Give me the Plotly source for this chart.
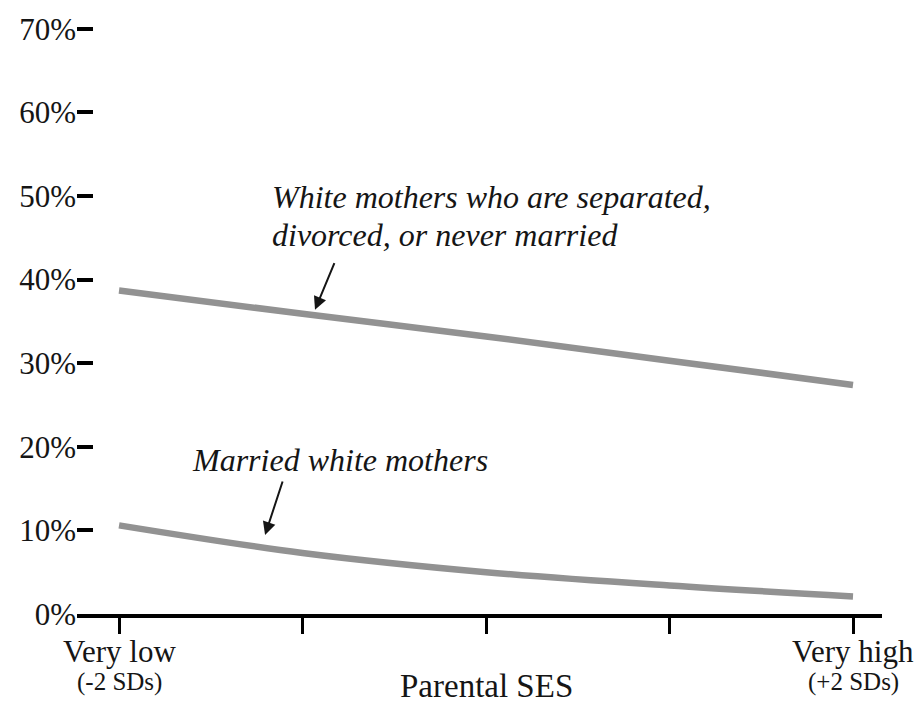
import plotly.graph_objects as go

ses_x = [-2, -1, 0, 1, 2]
unmarried_pct = [38.7, 35.9, 33.2, 30.3, 27.4]
married_pct = [10.6, 7.3, 5.0, 3.4, 2.1]
y_ticks = [0, 10, 20, 30, 40, 50, 60, 70]
y_ticktext = ["0%", "10%", "20%", "30%", "40%", "50%", "60%", "70%"]
x_end_labels = ["Very low", "Very high"]
sd_labels = ["(-2 SDs)", "(+2 SDs)"]

SERIF = "Liberation Serif, Times New Roman, serif"
INK = "#151515"
LINE_COLOR = "#929292"

fig = go.Figure()
fig.add_trace(go.Scatter(x=ses_x, y=unmarried_pct, mode="lines",
                         line=dict(color=LINE_COLOR, width=6.5, shape="spline"),
                         hoverinfo="skip", showlegend=False))
fig.add_trace(go.Scatter(x=ses_x, y=married_pct, mode="lines",
                         line=dict(color=LINE_COLOR, width=6.5, shape="spline"),
                         hoverinfo="skip", showlegend=False))

ital = dict(family=SERIF, size=32, color=INK)
annotations = [
    dict(x=-1.177, y=49.9, xref="x", yref="y", xanchor="left", yanchor="middle",
         text="<i>White mothers who are separated,</i>", showarrow=False, font=ital),
    dict(x=-1.177, y=45.3, xref="x", yref="y", xanchor="left", yanchor="middle",
         text="<i>divorced, or never married</i>", showarrow=False, font=ital),
    dict(x=-0.932, y=36.4, xref="x", yref="y", ax=20, ay=-48, text="",
         showarrow=True, arrowhead=2, arrowsize=1.3, arrowwidth=2, arrowcolor=INK),
    dict(x=-1.613, y=18.4, xref="x", yref="y", xanchor="left", yanchor="middle",
         text="<i>Married white mothers</i>", showarrow=False, font=ital),
    dict(x=-1.204, y=9.45, xref="x", yref="y", ax=18, ay=-55, text="",
         showarrow=True, arrowhead=2, arrowsize=1.3, arrowwidth=2, arrowcolor=INK),
    dict(x=0, y=-0.1196, xref="x", yref="paper", text="Parental SES", showarrow=False,
         xanchor="center", yanchor="middle", font=dict(family=SERIF, size=33, color=INK)),
]
for xv, main_lbl, sd_lbl in zip([ses_x[0], ses_x[-1]], x_end_labels, sd_labels):
    annotations.append(dict(x=xv, y=-0.0631, xref="x", yref="paper", text=main_lbl,
                            showarrow=False, xanchor="center", yanchor="middle",
                            font=dict(family=SERIF, size=31, color=INK)))
    annotations.append(dict(x=xv, y=-0.1130, xref="x", yref="paper", text=sd_lbl,
                            showarrow=False, xanchor="center", yanchor="middle",
                            font=dict(family=SERIF, size=25, color=INK)))

fig.update_layout(
    width=920, height=709,
    margin=dict(l=77, r=38, t=12, b=95, autoexpand=False),
    paper_bgcolor="white", plot_bgcolor="white",
    showlegend=False,
    annotations=annotations,
    xaxis=dict(range=[-2.229, 2.158], tickvals=ses_x, showticklabels=False,
               showline=True, linecolor="black", linewidth=4,
               ticks="outside", ticklen=16, tickwidth=3, tickcolor="black",
               showgrid=False, zeroline=False, automargin=False),
    yaxis=dict(range=[0, 72], tickvals=y_ticks, ticktext=y_ticktext,
               showline=False, showgrid=False, zeroline=False, automargin=False,
               ticks="inside", ticklen=16, tickwidth=4, tickcolor="black",
               tickfont=dict(family=SERIF, size=31, color=INK)),
)

fig.write_html("out.html", config={"displayModeBar": False},
               post_script="document.body.style.margin='0px';document.body.style.overflow='hidden';")
